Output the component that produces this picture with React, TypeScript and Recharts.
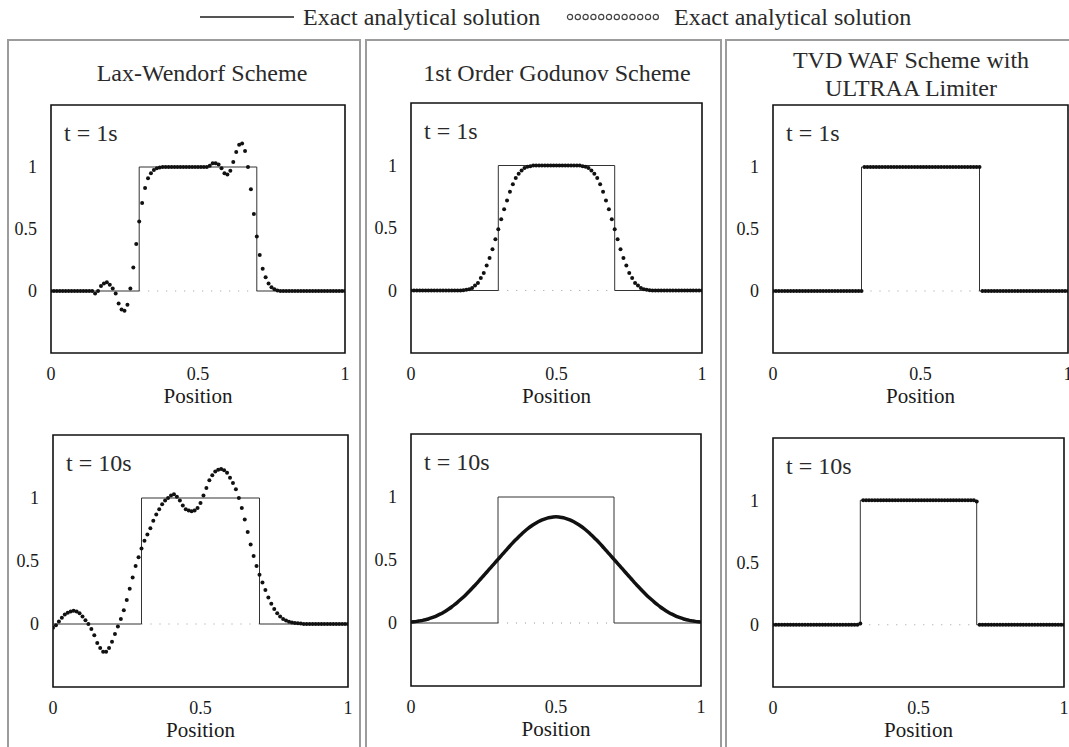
import { LineChart, Line, XAxis, YAxis, ReferenceArea, ReferenceLine } from 'recharts'

const FONT = '"Liberation Serif", "Times New Roman", serif'

// cell centres (100 cells on [0, 1])
const POSITIONS = [
  0, 0.01, 0.02, 0.03, 0.04, 0.05, 0.06, 0.07, 0.08, 0.09,
  0.1, 0.11, 0.12, 0.13, 0.14, 0.15, 0.16, 0.17, 0.18, 0.19,
  0.2, 0.21, 0.22, 0.23, 0.24, 0.25, 0.26, 0.27, 0.28, 0.29,
  0.3, 0.31, 0.32, 0.33, 0.34, 0.35, 0.36, 0.37, 0.38, 0.39,
  0.4, 0.41, 0.42, 0.43, 0.44, 0.45, 0.46, 0.47, 0.48, 0.49,
  0.5, 0.51, 0.52, 0.53, 0.54, 0.55, 0.56, 0.57, 0.58, 0.59,
  0.6, 0.61, 0.62, 0.63, 0.64, 0.65, 0.66, 0.67, 0.68, 0.69,
  0.7, 0.71, 0.72, 0.73, 0.74, 0.75, 0.76, 0.77, 0.78, 0.79,
  0.8, 0.81, 0.82, 0.83, 0.84, 0.85, 0.86, 0.87, 0.88, 0.89,
  0.9, 0.91, 0.92, 0.93, 0.94, 0.95, 0.96, 0.97, 0.98, 0.99,
  1,
]

// exact square pulse
const EXACT_X = [0, 0.3, 0.3, 0.7, 0.7, 1]
const EXACT_Y = [0, 0, 1, 1, 0, 0]

const LAX_WENDROFF_1S = [
  0, 0, 0, 0, 0, 0, 0, 0, 0, 0,
  0, 0, 0, 0, 0, -0.02, 0, 0.04, 0.06, 0.07,
  0.05, 0.02, -0.02, -0.1, -0.15, -0.16, -0.11, 0.02, 0.19, 0.38,
  0.56, 0.71, 0.83, 0.91, 0.95, 0.975, 0.99, 0.995, 1, 1,
  1, 1, 1, 1, 1, 1, 1, 1, 1, 1,
  1, 1, 1, 1, 1.01, 1.03, 1.03, 1.02, 0.99, 0.95,
  0.94, 0.97, 1.04, 1.12, 1.18, 1.19, 1.13, 1, 0.82, 0.62,
  0.44, 0.29, 0.18, 0.11, 0.06, 0.03, 0.015, 0.005, 0, 0,
  0, 0, 0, 0, 0, 0, 0, 0, 0, 0,
  0, 0, 0, 0, 0, 0, 0, 0, 0, 0,
  0,
]

const LAX_WENDROFF_10S = [
  -0.03, -0.01, 0.02, 0.05, 0.075, 0.09, 0.1, 0.105, 0.1, 0.085,
  0.06, 0.03, 0, -0.04, -0.09, -0.15, -0.19, -0.22, -0.22, -0.19,
  -0.14, -0.08, -0.02, 0.04, 0.11, 0.19, 0.28, 0.37, 0.46, 0.53,
  0.6, 0.66, 0.71, 0.76, 0.82, 0.87, 0.91, 0.95, 0.98, 1,
  1.02, 1.03, 1.01, 0.98, 0.94, 0.91, 0.9, 0.895, 0.9, 0.92,
  0.96, 1.02, 1.08, 1.14, 1.18, 1.21, 1.225, 1.23, 1.22, 1.2,
  1.16, 1.12, 1.07, 1, 0.92, 0.83, 0.73, 0.63, 0.54, 0.46,
  0.39, 0.33, 0.27, 0.21, 0.16, 0.12, 0.085, 0.06, 0.04, 0.028,
  0.018, 0.012, 0.008, 0.005, 0.003, 0, 0, 0, 0, 0,
  0, 0, 0, 0, 0, 0, 0, 0, 0, 0,
  0,
]

const GODUNOV_1S = [
  0, 0, 0, 0, 0, 0, 0, 0, 0, 0,
  0, 0, 0, 0, 0, 0, 0, 0, 0.003, 0.006,
  0.01, 0.02, 0.04, 0.06, 0.1, 0.14, 0.2, 0.26, 0.33, 0.41,
  0.49, 0.57, 0.65, 0.72, 0.79, 0.85, 0.9, 0.935, 0.96, 0.98,
  0.99, 0.995, 1, 1, 1, 1, 1, 1, 1, 1,
  1, 1, 1, 1, 1, 1, 1, 1, 1, 0.995,
  0.99, 0.98, 0.96, 0.935, 0.9, 0.85, 0.79, 0.72, 0.65, 0.57,
  0.49, 0.41, 0.33, 0.26, 0.2, 0.14, 0.1, 0.06, 0.04, 0.02,
  0.01, 0.006, 0.003, 0, 0, 0, 0, 0, 0, 0,
  0, 0, 0, 0, 0, 0, 0, 0, 0, 0,
  0,
]

const GODUNOV_10S = [
  0.008, 0.01, 0.013, 0.017, 0.021, 0.026, 0.032, 0.04, 0.049, 0.059,
  0.07, 0.082, 0.096, 0.111, 0.127, 0.145, 0.164, 0.184, 0.205, 0.227,
  0.25, 0.274, 0.298, 0.323, 0.349, 0.375, 0.401, 0.427, 0.453, 0.479,
  0.505, 0.531, 0.557, 0.583, 0.609, 0.634, 0.658, 0.681, 0.703, 0.724,
  0.744, 0.762, 0.778, 0.792, 0.805, 0.816, 0.825, 0.832, 0.837, 0.841,
  0.843, 0.841, 0.837, 0.832, 0.825, 0.816, 0.805, 0.792, 0.778, 0.762,
  0.744, 0.724, 0.703, 0.681, 0.658, 0.634, 0.609, 0.583, 0.557, 0.531,
  0.505, 0.479, 0.453, 0.427, 0.401, 0.375, 0.349, 0.323, 0.298, 0.274,
  0.25, 0.227, 0.205, 0.184, 0.164, 0.145, 0.127, 0.111, 0.096, 0.082,
  0.07, 0.059, 0.049, 0.04, 0.032, 0.026, 0.021, 0.017, 0.013, 0.01,
  0.008,
]

const TVD_WAF_1S = [
  0, 0, 0, 0, 0, 0, 0, 0, 0, 0,
  0, 0, 0, 0, 0, 0, 0, 0, 0, 0,
  0, 0, 0, 0, 0, 0, 0, 0, 0, 0,
  0, 1, 1, 1, 1, 1, 1, 1, 1, 1,
  1, 1, 1, 1, 1, 1, 1, 1, 1, 1,
  1, 1, 1, 1, 1, 1, 1, 1, 1, 1,
  1, 1, 1, 1, 1, 1, 1, 1, 1, 1,
  1, 0, 0, 0, 0, 0, 0, 0, 0, 0,
  0, 0, 0, 0, 0, 0, 0, 0, 0, 0,
  0, 0, 0, 0, 0, 0, 0, 0, 0, 0,
  0,
]

const TVD_WAF_10S = [
  0, 0, 0, 0, 0, 0, 0, 0, 0, 0,
  0, 0, 0, 0, 0, 0, 0, 0, 0, 0,
  0, 0, 0, 0, 0, 0, 0, 0, 0, 0,
  0.01, 1, 1, 1, 1, 1, 1, 1, 1, 1,
  1, 1, 1, 1, 1, 1, 1, 1, 1, 1,
  1, 1, 1, 1, 1, 1, 1, 1, 1, 1,
  1, 1, 1, 1, 1, 1, 1, 1, 1, 1,
  0.99, 0, 0, 0, 0, 0, 0, 0, 0, 0,
  0, 0, 0, 0, 0, 0, 0, 0, 0, 0,
  0, 0, 0, 0, 0, 0, 0, 0, 0, 0,
  0,
]

const X_TICKS = [0, 0.5, 1]
const Y_TICKS = [0, 0.5, 1]

type Box = { left: number; top: number; right: number; bottom: number }

interface PanelProps {
  box: Box
  values: number[]
  time: string
  solid?: boolean
}

function SchemePanel({ box, values, time, solid }: PanelProps) {
  const width = box.right - box.left + 55
  const height = box.bottom - box.top + 60
  const exact = EXACT_X.map((x, i) => ({ x, y: EXACT_Y[i] }))
  const numeric = POSITIONS.map((x, i) => ({ x, y: values[i] }))
  const tick = { fill: '#1a1a1a', fontSize: 18, fontFamily: FONT }

  return (
    <>
      <div style={{ position: 'absolute', left: box.left - 50, top: box.top - 5 }}>
        <LineChart width={width} height={height} margin={{ top: 5, right: 5, bottom: 5, left: 0 }}>
          <XAxis
            dataKey="x"
            type="number"
            domain={[0, 1]}
            ticks={X_TICKS}
            allowDataOverflow
            axisLine={false}
            tickLine={false}
            tickSize={6}
            tickMargin={8}
            height={50}
            tick={tick}
            label={{ value: 'Position', position: 'insideBottom', offset: 0, fill: '#1a1a1a', fontSize: 21, fontFamily: FONT }}
          />
          <YAxis
            type="number"
            domain={[-0.5, 1.5]}
            ticks={Y_TICKS}
            allowDataOverflow
            axisLine={false}
            tickLine={false}
            tickSize={6}
            tickMargin={8}
            width={50}
            tick={tick}
          />
          <ReferenceLine
            segment={[{ x: 0.3, y: 0 }, { x: 0.7, y: 0 }]}
            stroke="#9a9a9a"
            strokeDasharray="1 8"
          />
          <ReferenceArea x1={0} x2={1} y1={-0.5} y2={1.5} fill="none" stroke="#111" strokeWidth={1.6} />
          <Line
            data={exact}
            dataKey="y"
            type="linear"
            stroke="#333"
            strokeWidth={1}
            dot={false}
            activeDot={false}
            isAnimationActive={false}
          />
          {solid ? (
            <Line
              data={numeric}
              dataKey="y"
              type="monotone"
              stroke="#111"
              strokeWidth={3.5}
              dot={false}
              activeDot={false}
              isAnimationActive={false}
            />
          ) : (
            <Line
              data={numeric}
              dataKey="y"
              stroke="none"
              dot={{ r: 2, fill: '#111', stroke: 'none' }}
              activeDot={false}
              isAnimationActive={false}
            />
          )}
        </LineChart>
      </div>
      <div
        style={{
          position: 'absolute',
          left: box.left + 13,
          top: box.top + 16,
          fontFamily: FONT,
          fontSize: 24,
          lineHeight: '24px',
          color: '#2a2a2a',
          whiteSpace: 'nowrap',
        }}
      >
        {time}
      </div>
    </>
  )
}

const cellStyle = (left: number, width: number) => ({
  position: 'absolute' as const,
  left,
  top: 39,
  width,
  height: 800,
  border: '2px solid #9c9c9c',
  boxSizing: 'border-box' as const,
})

const titleStyle = (center: number, top: number) => ({
  position: 'absolute' as const,
  left: center - 170,
  width: 340,
  top,
  textAlign: 'center' as const,
  fontFamily: FONT,
  fontSize: 24,
  lineHeight: '28px',
  color: '#2a2a2a',
})

const legendText = {
  position: 'absolute' as const,
  top: 4,
  fontFamily: FONT,
  fontSize: 24,
  lineHeight: '26px',
  color: '#2a2a2a',
  whiteSpace: 'nowrap' as const,
}

const LEGEND_DOTS = [0, 1, 2, 3, 4, 5, 6, 7, 8, 9, 10, 11]

export default function App() {
  return (
    <div
      style={{
        position: 'fixed',
        left: 0,
        top: 0,
        width: 1069,
        height: 747,
        overflow: 'hidden',
        background: '#fff',
      }}
    >
      {/* legend */}
      <div style={{ position: 'absolute', left: 200, top: 16, width: 94, height: 2, background: '#555' }} />
      <div style={{ ...legendText, left: 303 }}>Exact analytical solution</div>
      <svg style={{ position: 'absolute', left: 566, top: 11 }} width={96} height={12}>
        {LEGEND_DOTS.map((i) => (
          <circle key={i} cx={4 + i * 7.8} cy={6} r={2.6} fill="none" stroke="#444" strokeWidth={1.2} />
        ))}
      </svg>
      <div style={{ ...legendText, left: 674 }}>Exact analytical solution</div>

      <div style={cellStyle(7, 354)} />
      <div style={cellStyle(365, 357)} />
      <div style={cellStyle(725, 400)} />

      <div style={titleStyle(202, 59)}>Lax-Wendorf Scheme</div>
      <div style={titleStyle(557, 59)}>1st Order Godunov Scheme</div>
      <div style={titleStyle(911, 46)}>
        TVD WAF Scheme with
        <br />
        ULTRAA Limiter
      </div>

      <SchemePanel box={{ left: 51, top: 105, right: 345, bottom: 353 }} values={LAX_WENDROFF_1S} time="t = 1s" />
      <SchemePanel box={{ left: 411, top: 103, right: 702, bottom: 353 }} values={GODUNOV_1S} time="t = 1s" />
      <SchemePanel box={{ left: 773, top: 105, right: 1068, bottom: 353 }} values={TVD_WAF_1S} time="t = 1s" />
      <SchemePanel box={{ left: 53, top: 435, right: 348, bottom: 687 }} values={LAX_WENDROFF_10S} time="t = 10s" />
      <SchemePanel box={{ left: 411, top: 434, right: 701, bottom: 686 }} values={GODUNOV_10S} time="t = 10s" solid />
      <SchemePanel box={{ left: 773, top: 438, right: 1064, bottom: 687 }} values={TVD_WAF_10S} time="t = 10s" />
    </div>
  )
}
